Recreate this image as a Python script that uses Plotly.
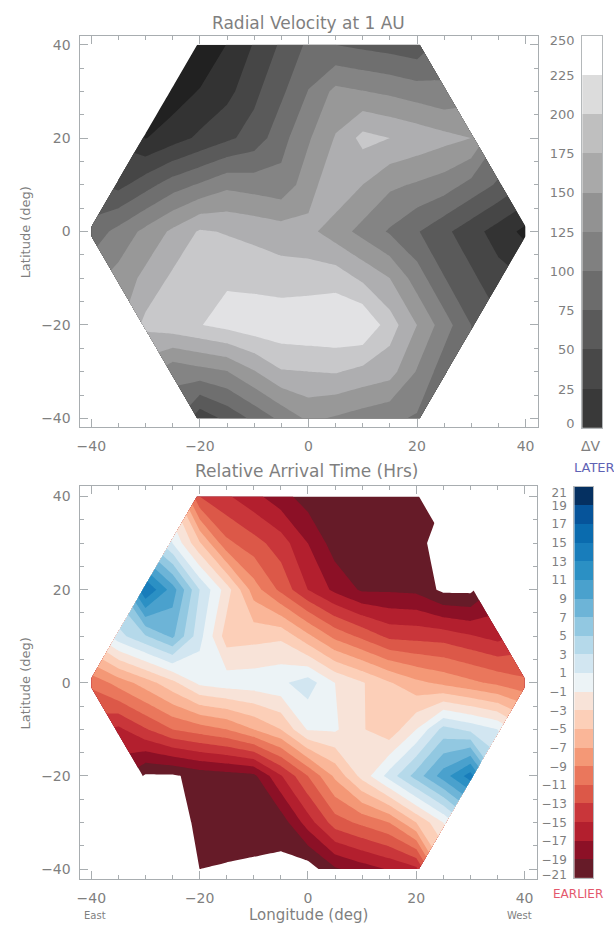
import plotly.graph_objects as go

W, H = 614, 931

longitudes = [-40, -35, -30, -25, -20, -15, -10, -5, 0, 5, 10, 15, 20, 25, 30, 35, 40]
latitudes = [40, 30, 20, 10, 0, -10, -20, -30, -40]
axis_ticks = [-40, -20, 0, 20, 40]

# Radial velocity, one list per latitude, west-going across the hexagon
velocity_lat_p40 = [-26, 1, 27, 54, 80, 75, 69, 64, 58]
velocity_lat_p30 = [-14, 2, 17, 44, 70, 101, 132, 126, 120, 112, 104]
velocity_lat_p20 = [-1, 14, 30, 45, 60, 91, 122, 152, 183, 175, 167, 158, 150]
velocity_lat_p10 = [42, 65, 88, 103, 119, 114, 108, 139, 170, 150, 130, 122, 113, 92, 71]
velocity_lat_0 = [85, 108, 132, 155, 178, 173, 168, 162, 157, 137, 117, 97, 77, 56, 35, 14, -7]
velocity_lat_m10 = [134, 157, 180, 188, 197, 192, 187, 188, 190, 170, 150, 113, 76, 55, 34]
velocity_lat_m20 = [182, 191, 199, 208, 216, 218, 220, 222, 224, 187, 150, 112, 75]
velocity_lat_m30 = [107, 116, 124, 148, 173, 175, 177, 168, 160, 123, 86]
velocity_lat_m40 = [33, 57, 81, 106, 130, 122, 113, 105, 97]

# Relative arrival time (hours)
arrival_lat_p40 = [-13, -14.7, -16.4, -18.2, -20, -20.1, -20.2, -20.4, -20.9]
arrival_lat_p30 = [1, -4.75, -10.5, -12.2, -14, -17, -20, -20.2, -20.3, -20.6, -21.6]
arrival_lat_p20 = [15, 10, 3, -2, -8, -11.5, -15, -17.5, -19.3, -19.3, -19.5, -21.5, -21.5]
arrival_lat_p10 = [2.25, 4.8, 7.4, 1.7, -4, -3.7, -3.4, -6.5, -9.6, -11.5, -13.5, -13.7, -13.9, -14.8, -15.7]
arrival_lat_0 = [-10.5, -8.2, -6, -3.6, -0.5, 0.1, 0.2, 0.6, 2, -1, -2.8, -4.8, -6.5, -7.5, -8.5, -9.5, -10.5]
arrival_lat_m10 = [-15.5, -13.2, -11, -10, -9, -7, -5, -0.8, -0.7, -2.8, -4.4, -1, 3.75, 2.5, 1]
arrival_lat_m20 = [-21.3, -21.3, -20.3, -19.9, -19.5, -15.2, -11, -6.6, -2.3, 1.8, 5.9, 10, 14]
arrival_lat_m30 = [-21.9, -20.6, -20.4, -20.3, -20.2, -16, -12, -10.5, -9, -5, -1]
arrival_lat_m40 = [-21, -21.1, -21.25, -21.5, -22.1, -19.3, -18, -16.8, -15.5]

velocity_rows = [velocity_lat_p40, velocity_lat_p30, velocity_lat_p20, velocity_lat_p10, velocity_lat_0,
                 velocity_lat_m10, velocity_lat_m20, velocity_lat_m30, velocity_lat_m40]
arrival_rows = [arrival_lat_p40, arrival_lat_p30, arrival_lat_p20, arrival_lat_p10, arrival_lat_0,
                arrival_lat_m10, arrival_lat_m20, arrival_lat_m30, arrival_lat_m40]

# Band colours, low to high; the first is what falls below the lowest level
velocity_colors = ["#212121", "#333333", "#464646", "#5a5a5a", "#6f6f6f", "#848484",
                   "#989898", "#aeaeb0", "#c8c8ca", "#e2e2e4", "#ffffff"]
velocity_levels = (0, 225, 25)
velocity_bar_colors = ["#393939", "#484848", "#5a5a5a", "#6c6c6c", "#808080",
                       "#929292", "#a9a9a9", "#bfbfbf", "#dcdcdc", "#ffffff"]
velocity_bar_ticks = [3, 25, 50, 75, 100, 125, 150, 175, 200, 225, 247]
velocity_bar_text = ["0", "25", "50", "75", "100", "125", "150", "175", "200", "225", "250"]

arrival_colors = ["#ffffff", "#661b28", "#8c1026", "#b31f2e", "#c9363a", "#dc5848", "#ea775c", "#f49876",
                  "#fab698", "#fccfb8", "#f8e3d8", "#ecf3f6", "#d2e6f1", "#b5d9ea", "#92c8e1", "#6db4d7",
                  "#4aa1cd", "#2b90c4", "#187dbb", "#0a6bae", "#06549a", "#053061", "#053061"]
arrival_levels = (-21, 21, 2)
arrival_bar_colors = arrival_colors[1:-1]
arrival_bar_ticks = [20.4, 19, 17, 15, 13, 11, 9, 7, 5, 3, 1, -1, -3, -5, -7, -9, -11, -13, -15, -17, -19, -20.6]
arrival_bar_text = ["21", "19", "17", "15", "13", "11", "9", "7", "5", "3", "1", "\u22121", "\u22123", "\u22125",
                    "\u22127", "\u22129", "\u221211", "\u221213", "\u221215", "\u221217", "\u221219", "\u221221"]

TEXT = "#7f7f7f"
AXIS = "#a8adb0"
FONT = "DejaVu Sans"


def pad(rows):
    out = []
    for r in rows:
        n = (len(longitudes) - len(r)) // 2
        out.append([None] * n + r + [None] * n)
    return out


def fx(px):
    return px / W


def fy(py):
    return 1 - py / H


def scale(colors):
    n = len(colors) - 1
    return [[i / n, c] for i, c in enumerate(colors)]


def stepped(colors):
    n = len(colors)
    out = []
    for i, c in enumerate(colors):
        out += [[i / n, c], [(i + 1) / n, c]]
    return out


fig = go.Figure()


def contour(rows, colors, levels, xa, ya):
    fig.add_trace(go.Contour(
        x=longitudes, y=latitudes, z=pad(rows), xaxis=xa, yaxis=ya,
        colorscale=scale(colors), showscale=False, connectgaps=False,
        autocontour=False, line=dict(width=0, smoothing=0),
        contours=dict(start=levels[0], end=levels[1], size=levels[2], coloring="fill", showlines=False),
        hoverinfo="skip"))


def bar(colors, low, step, xa, ya):
    edges = [low + i * step for i in range(len(colors) + 1)]
    fig.add_trace(go.Heatmap(
        x=[0, 1], y=edges, z=[[i] for i in range(len(colors))], xaxis=xa, yaxis=ya,
        colorscale=stepped(colors), zmin=-0.5, zmax=len(colors) - 0.5, showscale=False,
        xgap=0, ygap=0, hoverinfo="skip"))


contour(velocity_rows, velocity_colors, velocity_levels, "x", "y")
contour(arrival_rows, arrival_colors, arrival_levels, "x2", "y2")
bar(velocity_bar_colors, 0, 25, "x3", "y3")
bar(arrival_bar_colors, -21, 2, "x4", "y4")


def map_axis(domain, rng, anchor):
    return dict(domain=domain, range=rng, anchor=anchor, tickmode="array", tickvals=axis_ticks,
                ticks="inside", ticklen=8, tickwidth=1, tickcolor=AXIS,
                showline=True, linecolor=AXIS, linewidth=1, mirror="allticks",
                showgrid=False, zeroline=False, tickfont=dict(family=FONT, size=14, color=TEXT),
                ticklabelstandoff=6,
                minor=dict(tickmode="linear", tick0=-40, dtick=5, ticks="inside", ticklen=4,
                           tickcolor=AXIS, tickwidth=1, showgrid=False))


def bar_axis_x(domain, anchor):
    return dict(domain=domain, range=[0, 1], anchor=anchor, showticklabels=False, ticks="", showgrid=False,
                zeroline=False, showline=True, linecolor="#b4b8ba", linewidth=1, mirror=True)


def bar_axis_y(domain, rng, vals, text, anchor, size):
    return dict(domain=domain, range=rng, anchor=anchor, tickmode="array", tickvals=vals, ticktext=text, ticks="",
                side="left", showgrid=False, zeroline=False, showline=True, linecolor="#b4b8ba", linewidth=1,
                mirror=True, tickfont=dict(family=FONT, size=size, color=TEXT), ticklabelstandoff=4)


fig.update_layout(
    width=W, height=H, margin=dict(l=0, r=0, t=0, b=0), paper_bgcolor="white", plot_bgcolor="white",
    showlegend=False,
    xaxis=map_axis([fx(77), fx(537)], [-42.0, 42.2], "y"),
    yaxis=map_axis([fy(427), fy(33)], [-41.9, 41.9], "x"),
    xaxis2=map_axis([fx(77), fx(536)], [-42.0, 42.2], "y2"),
    yaxis2=map_axis([fy(882), fy(486)], [-42.2, 42.3], "x2"),
    xaxis3=bar_axis_x([fx(582), fx(602)], "y3"),
    yaxis3=bar_axis_y([fy(428), fy(33)], [0, 250], velocity_bar_ticks, velocity_bar_text, "x3", 13),
    xaxis4=bar_axis_x([fx(574), fx(593)], "y4"),
    yaxis4=bar_axis_y([fy(881), fy(487)], [-21, 21], arrival_bar_ticks, arrival_bar_text, "x4", 12),
)


def label(text, x, y, size, color=TEXT, angle=0, xanchor="center"):
    fig.add_annotation(text=text, x=fx(x), y=fy(y), xref="paper", yref="paper", showarrow=False,
                       xanchor=xanchor, yanchor="middle", textangle=angle,
                       font=dict(family=FONT, size=size, color=color))


label("Radial Velocity at 1 AU", 306, 20, 17)
label("Relative Arrival Time (Hrs)", 305, 471, 17)
label("Latitude (deg)", 22, 231, 13, angle=-90)
label("Latitude (deg)", 22, 685, 13, angle=-90)
label("Longitude (deg)", 306, 918, 15)
label("East", 92, 918, 10)
label("West", 519, 918, 10)
label("\u0394V", 591, 446, 14)
label("LATER", 594, 468, 13, color="#5f63b5")
label("EARLIER", 551, 897, 12, color="#e4586c", xanchor="left")

fig.write_html("out.html", config={"displayModeBar": False}, post_script="document.body.style.margin='0';")
